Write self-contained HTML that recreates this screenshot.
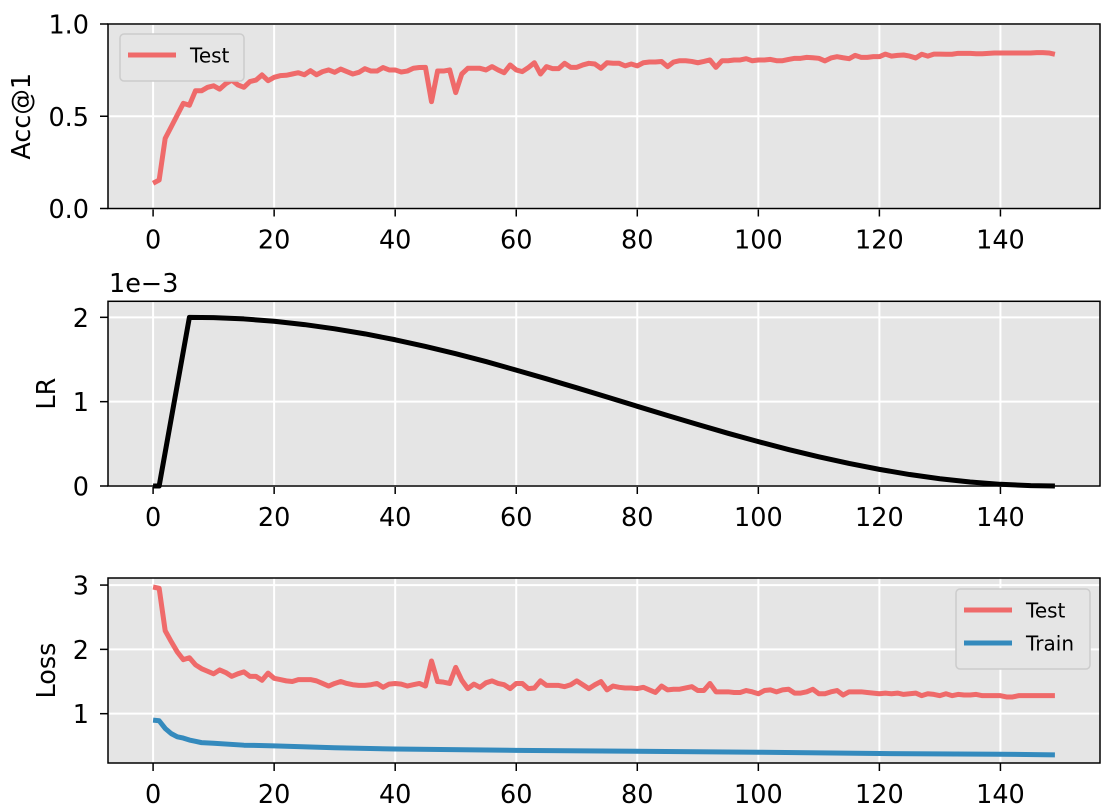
<!DOCTYPE html>
<html><head><meta charset="utf-8"><style>
body{margin:0;background:#fff;}
svg{display:block;font-family:"DejaVu Sans","Liberation Sans",sans-serif;}
</style></head><body>
<svg id="chart" width="1108" height="811" viewBox="0 0 1108 811" xmlns="http://www.w3.org/2000/svg"></svg>
<script>
const epochs = Array.from({length:150},(_,i)=>i);
const accTest = [0.137,0.154,0.38,0.443,0.507,0.57,0.56,0.638,0.638,0.657,0.665,0.647,0.676,0.696,0.67,0.657,0.688,0.696,0.724,0.693,
0.711,0.72,0.722,0.729,0.736,0.725,0.747,0.725,0.742,0.751,0.738,0.756,0.742,0.729,0.738,0.758,0.745,0.745,0.764,0.751,
0.751,0.74,0.745,0.76,0.764,0.765,0.579,0.745,0.745,0.751,0.628,0.729,0.76,0.76,0.76,0.751,0.769,0.751,0.736,0.778,
0.751,0.742,0.764,0.79,0.729,0.769,0.758,0.758,0.787,0.765,0.765,0.778,0.787,0.783,0.76,0.79,0.787,0.787,0.773,0.783,
0.773,0.79,0.794,0.794,0.797,0.769,0.794,0.801,0.801,0.797,0.79,0.797,0.805,0.765,0.801,0.801,0.805,0.805,0.812,0.801,
0.805,0.805,0.808,0.801,0.801,0.808,0.814,0.814,0.819,0.817,0.814,0.8,0.816,0.823,0.817,0.812,0.83,0.819,0.819,0.823,
0.823,0.837,0.826,0.83,0.832,0.826,0.816,0.836,0.826,0.837,0.837,0.836,0.836,0.841,0.841,0.841,0.839,0.839,0.841,0.843,
0.843,0.843,0.843,0.843,0.843,0.843,0.845,0.845,0.843,0.836];
const lrEpochs = [0,1,6,10,15,20,25,30,35,40,45,50,55,60,65,70,75,80,85,90,95,100,105,110,115,120,125,130,135,140,145,149];
const lrValues = [0,0,2.0,1.996,1.981,1.953,1.914,1.864,1.804,1.734,1.655,1.569,1.475,1.374,1.271,1.164,1.055,0.945,0.836,0.729,0.625,0.526,0.432,0.346,0.267,0.197,0.136,0.086,0.047,0.020,0.004,0.0];
const lossTest = [2.97,2.95,2.29,2.12,1.96,1.84,1.87,1.76,1.70,1.66,1.62,1.68,1.64,1.58,1.62,1.65,1.58,1.58,1.52,1.63,
1.55,1.53,1.51,1.50,1.53,1.53,1.53,1.51,1.47,1.43,1.47,1.50,1.47,1.45,1.44,1.44,1.45,1.47,1.41,1.46,
1.47,1.46,1.43,1.45,1.47,1.43,1.82,1.50,1.49,1.47,1.72,1.52,1.39,1.46,1.41,1.48,1.51,1.47,1.45,1.39,
1.47,1.47,1.39,1.40,1.51,1.44,1.44,1.44,1.42,1.45,1.51,1.45,1.39,1.45,1.50,1.37,1.43,1.41,1.40,1.40,
1.39,1.41,1.37,1.33,1.43,1.37,1.38,1.38,1.40,1.42,1.36,1.36,1.47,1.34,1.34,1.34,1.33,1.33,1.36,1.34,
1.31,1.36,1.37,1.34,1.37,1.38,1.32,1.32,1.34,1.38,1.31,1.31,1.34,1.36,1.29,1.34,1.34,1.34,1.33,1.32,
1.31,1.32,1.31,1.32,1.30,1.31,1.32,1.28,1.31,1.30,1.28,1.31,1.28,1.30,1.29,1.29,1.30,1.28,1.28,1.28,
1.28,1.26,1.26,1.28,1.28,1.28,1.28,1.28,1.28,1.28];
const trainEpochs = [0,1,2,3,4,5,6,7,8,10,15,20,30,40,60,74,100,120,140,149];
const trainLoss = [0.90,0.89,0.77,0.69,0.64,0.62,0.59,0.57,0.55,0.54,0.51,0.50,0.47,0.45,0.43,0.42,0.40,0.38,0.37,0.36];
const xTicks = [0,20,40,60,80,100,120,140];
const accTicks = [0,0.5,1.0], accTickLabels = ["0.0","0.5","1.0"];
const lrTicks = [0,1,2], lrTickLabels = ["0","1","2"];
const lossTicks = [1,2,3], lossTickLabels = ["1","2","3"];

const NS="http://www.w3.org/2000/svg";
const svg=document.getElementById('chart');
function mk(tag,attrs,parent){const e=document.createElementNS(NS,tag);for(const k in attrs)e.setAttribute(k,attrs[k]);(parent||svg).appendChild(e);return e;}
const X0=108,X1=1100,XMIN=-7.45,XMAX=156.45;
const FS=25.5;
const sx=v=>X0+(v-XMIN)/(XMAX-XMIN)*(X1-X0);

function panel(name,top,bottom,ymin,ymax,yt,ytl,ylabel,titleX){
  const g=mk('g',{});
  
  
  const sy=v=>bottom-(v-ymin)/(ymax-ymin)*(bottom-top);
  mk('rect',{x:X0,y:top,width:X1-X0,height:bottom-top,fill:'#e5e5e5'},g);
  xTicks.forEach(t=>{
    mk('line',{x1:sx(t),x2:sx(t),y1:top,y2:bottom,stroke:'#fff','stroke-width':2},g);
    mk('line',{x1:sx(t),x2:sx(t),y1:bottom,y2:bottom+8,stroke:'#000','stroke-width':1.5},g);
    const tx=mk('text',{x:sx(t),y:bottom+40,'text-anchor':'middle','font-size':FS,fill:'#000'},g);
    
    
    tx.textContent=t;
  });
  yt.forEach((t,i)=>{
    mk('line',{x1:X0,x2:X1,y1:sy(t),y2:sy(t),stroke:'#fff','stroke-width':2},g);
    mk('line',{x1:X0-8,x2:X0,y1:sy(t),y2:sy(t),stroke:'#000','stroke-width':1.5},g);
    const tx=mk('text',{x:X0-19,y:sy(t)+9.5,'text-anchor':'end','font-size':FS,fill:'#000'},g);
    
    
    tx.textContent=ytl[i];
  });
  mk('rect',{x:X0,y:top,width:X1-X0,height:bottom-top,fill:'none',stroke:'#000','stroke-width':1.5},g);
  const yl=mk('text',{x:0,y:0,'text-anchor':'middle','font-size':FS,fill:'#000',transform:`translate(${titleX},${(top+bottom)/2}) rotate(-90)`},g);
  
  
  yl.textContent=ylabel;
  return {g,sy};
}
function line(p,xs,ys,color,name){
  const pts=xs.map((x,i)=>sx(x).toFixed(2)+','+p.sy(ys[i]).toFixed(2)).join(' ');
  const l=mk('polyline',{points:pts,fill:'none',stroke:color,'stroke-width':5,'stroke-linejoin':'round'},p.g);
  
  
}
function legend(p,x,y,w,entries){
  const lg=mk('g',{},p.g);
  
  
  mk('rect',{x:x,y:y,width:w,height:14+entries.length*33,rx:4,fill:'#e5e5e5',stroke:'#cccccc','stroke-width':1.5},lg);
  entries.forEach((e,i)=>{
    const cy=y+21+i*33;
    mk('line',{x1:x+8,x2:x+56,y1:cy,y2:cy,stroke:e[1],'stroke-width':5},lg);
    const t=mk('text',{x:x+70,y:cy+7.5,'font-size':20,fill:'#000'},lg);
    
    
    t.textContent=e[0];
  });
}
const RED='#ef6a6a',BLUE='#348abd';
const p1=panel('accuracy',24,208.5,0,1.0,accTicks,accTickLabels,'Acc@1',30);
line(p1,epochs,accTest,RED,'acc-test-line');
legend(p1,120,34,124,[['Test',RED]]);

const p2=panel('learning-rate',301.3,486,0,2.19,lrTicks,lrTickLabels,'LR',55);
line(p2,lrEpochs,lrValues,'#000','lr-line');
const ex=mk('text',{x:109,y:292,'font-size':FS,fill:'#000'});


ex.textContent='1e\u22123';

const p3=panel('loss',578,763,0.233,3.11,lossTicks,lossTickLabels,'Loss',55);
line(p3,epochs,lossTest,RED,'loss-test-line');
line(p3,trainEpochs,trainLoss,BLUE,'loss-train-line');
legend(p3,956,589,134,[['Test',RED],['Train',BLUE]]);
</script>
</body></html>
